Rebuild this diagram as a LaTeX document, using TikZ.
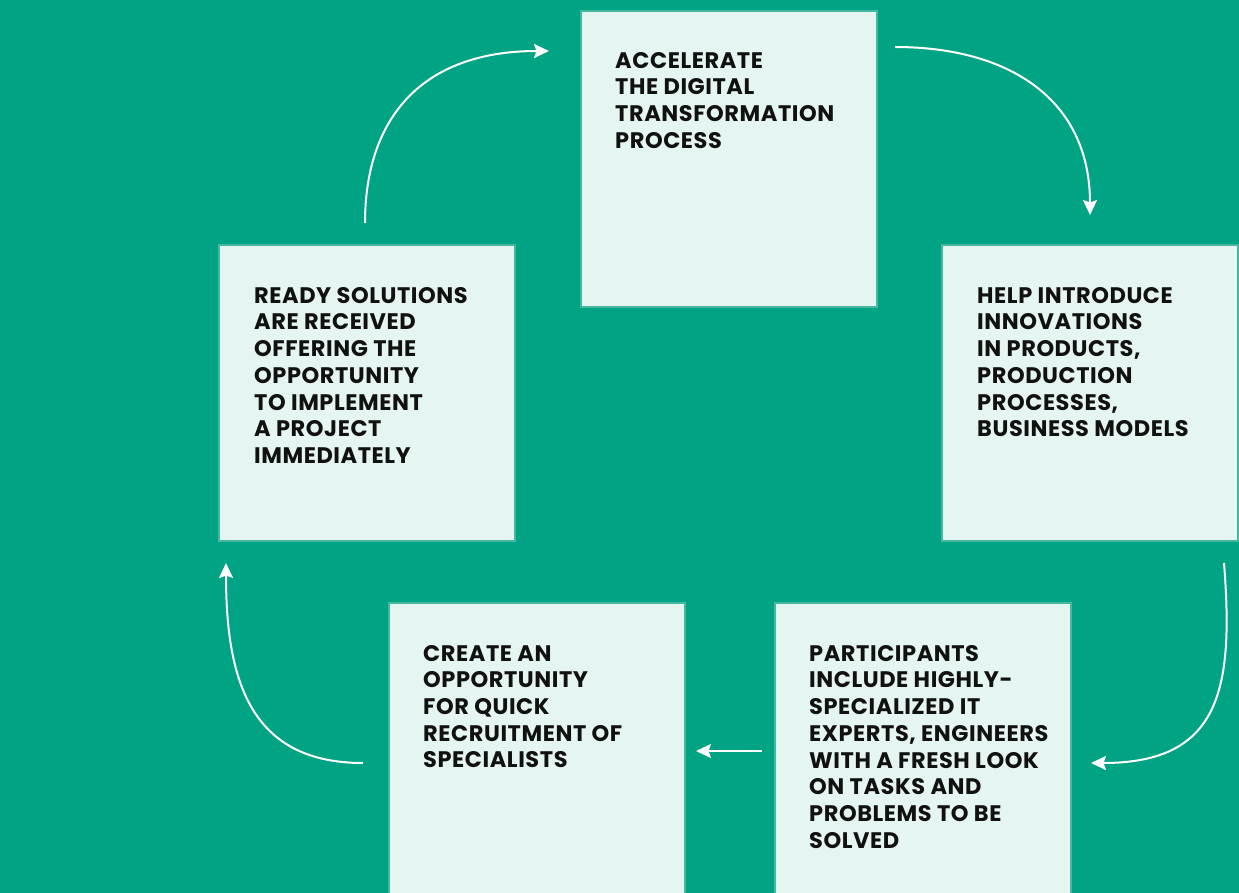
\documentclass[tikz,border=0pt]{standalone}
\usepackage{fontspec}
\setmainfont{Poppins}[LetterSpace=2.5]
\usetikzlibrary{arrows.meta}
\definecolor{bggreen}{HTML}{00A383}
\definecolor{boxfill}{HTML}{E5F5F1}
\definecolor{boxline}{HTML}{45B9A0}
\definecolor{txt}{HTML}{111111}
\tikzset{
  card/.style={draw=boxline, line width=2pt, fill=boxfill, rectangle, inner sep=0pt,
    minimum width=296pt, minimum height=296pt, anchor=north west},
  cardtext/.style={anchor=north west, inner sep=0pt, align=left, text=txt,
    font=\fontsize{22.5}{26.7}\selectfont\bfseries},
  flow/.style={draw=white, line width=2pt, -{Stealth[length=15pt,width=14pt,inset=2.5pt]}}
}
\begin{document}
\begin{tikzpicture}[x=1pt,y=-1pt]
\fill[bggreen] (0,0) rectangle (1239,893);
\useasboundingbox (0,0) rectangle (1239,893);
% boxes
\node[card] (b1) at (580,10) {};
\node[card] (b2) at (941,244) {};
\node[card, minimum height=300pt] (b3) at (774,602) {};
\node[card, minimum height=300pt] (b4) at (388,602) {};
\node[card] (b5) at (218,244) {};
% texts
\node[cardtext] (t1) at ([shift={(35,42)}]b1.north west) {ACCELERATE\\THE DIGITAL\\TRANSFORMATION\\PROCESS};
\node[cardtext] (t2) at ([shift={(36,43)}]b2.north west) {HELP INTRODUCE\\INNOVATIONS\\IN PRODUCTS,\\PRODUCTION\\PROCESSES,\\BUSINESS MODELS};
\node[cardtext] (t3) at ([shift={(35,43)}]b3.north west) {PARTICIPANTS\\INCLUDE HIGHLY-\\SPECIALIZED IT\\EXPERTS, ENGINEERS\\WITH A FRESH LOOK\\ON TASKS AND\\PROBLEMS TO BE\\SOLVED};
\node[cardtext] (t4) at ([shift={(35,43)}]b4.north west) {CREATE AN\\OPPORTUNITY\\FOR QUICK\\RECRUITMENT OF\\SPECIALISTS};
\node[cardtext] (t5) at ([shift={(36,43)}]b5.north west) {READY SOLUTIONS\\ARE RECEIVED\\OFFERING THE\\OPPORTUNITY\\TO IMPLEMENT\\A PROJECT\\IMMEDIATELY};
% arrow end points
\coordinate (a1s) at (365,223);
\coordinate (a1e) at (549,51);
\coordinate (a2s) at (895,47);
\coordinate (a2e) at (1090,215);
\coordinate (a3s) at (1224,563);
\coordinate (a3e) at (1091,763);
\coordinate (a4s) at (762,751);
\coordinate (a4e) at (696,751);
\coordinate (a5s) at (363,763);
\coordinate (a5e) at (226,563);
\draw[flow] (a1s) .. controls (365,120) and (420,51) .. (a1e);
\draw[flow] (a2s) .. controls (1010,47) and (1090,100) .. (a2e);
\draw[flow] (a3s) .. controls (1234,690) and (1220,763) .. (a3e);
\draw[flow] (a4s) -- (a4e);
\draw[flow] (a5s) .. controls (250,763) and (226,680) .. (a5e);
\end{tikzpicture}
\end{document}
